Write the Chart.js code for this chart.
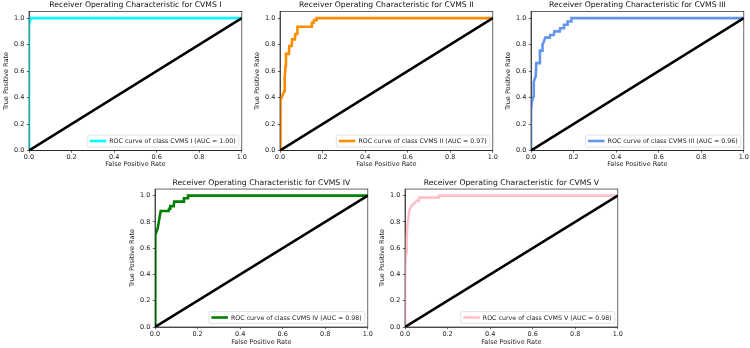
<!DOCTYPE html>
<html>
<head>
<meta charset="utf-8">
<script src="https://cdn.jsdelivr.net/npm/chart.js@4.4.1/dist/chart.umd.min.js"></script>
<style>
  html, body { margin: 0; padding: 0; background: #fff; }
  body { width: 750px; height: 348px; position: relative; overflow: hidden; }
  canvas { position: absolute; display: block; }
</style>
</head>
<body>
<canvas id="roc1" width="248" height="170" style="left:0px;top:0px"></canvas>
<canvas id="roc2" width="248" height="170" style="left:251px;top:0px"></canvas>
<canvas id="roc3" width="248" height="170" style="left:502px;top:0px"></canvas>
<canvas id="roc4" width="248" height="171" style="left:126px;top:177px"></canvas>
<canvas id="roc5" width="248" height="171" style="left:376px;top:177px"></canvas>
<script>
// tick labels shared by both axes
const tickValues = [0, 0.2, 0.4, 0.6, 0.8, 1.0];

// chance line
const diagFpr = [0, 1];
const diagTpr = [0, 1];

const classNames = ['CVMS I', 'CVMS II', 'CVMS III', 'CVMS IV', 'CVMS V'];
const aucValues = [1.00, 0.97, 0.96, 0.98, 0.98];
const curveColors = ['#00ffff', '#ff8c00', '#6495ed', '#008000', '#ffc0cb'];

// ROC points
const fprI = [0, 0, 0.008, 1];
const tprI = [0, 0.955, 1.0, 1];

const fprII = [0, 0, 0.004, 0.01, 0.02, 0.022, 0.026, 0.028, 0.042, 0.044, 0.055, 0.057, 0.07, 0.072, 0.08, 0.082, 0.148, 0.15, 0.158, 0.16, 0.17, 0.172, 1];
const tprII = [0, 0.28, 0.38, 0.41, 0.45, 0.55, 0.64, 0.73, 0.73, 0.79, 0.79, 0.84, 0.84, 0.88, 0.88, 0.935, 0.935, 0.965, 0.965, 0.985, 0.985, 1.0, 1];

const fprIII = [0, 0, 0.005, 0.012, 0.013, 0.022, 0.025, 0.04, 0.042, 0.052, 0.054, 0.06, 0.067, 0.088, 0.09, 0.107, 0.11, 0.135, 0.137, 0.153, 0.155, 0.17, 0.172, 0.188, 0.19, 1];
const tprIII = [0, 0.30, 0.38, 0.41, 0.52, 0.56, 0.66, 0.66, 0.755, 0.755, 0.80, 0.82, 0.853, 0.853, 0.873, 0.873, 0.90, 0.90, 0.924, 0.924, 0.95, 0.95, 0.975, 0.975, 1.0, 1];

const fprIV = [0, 0, 0.003, 0.006, 0.0125, 0.018, 0.022, 0.027, 0.064, 0.066, 0.071, 0.072, 0.088, 0.09, 0.134, 0.136, 0.153, 0.155, 1];
const tprIV = [0, 0.40, 0.70, 0.72, 0.75, 0.80, 0.84, 0.883, 0.883, 0.90, 0.90, 0.92, 0.92, 0.954, 0.954, 0.98, 0.98, 1.0, 1];

const fprV = [0, 0, 0.005, 0.008, 0.011, 0.016, 0.02, 0.028, 0.04, 0.055, 0.065, 0.067, 0.158, 0.16, 1];
const tprV = [0, 0.44, 0.57, 0.67, 0.77, 0.83, 0.885, 0.92, 0.935, 0.96, 0.96, 0.985, 0.985, 1.0, 1];

const fprList = [fprI, fprII, fprIII, fprIV, fprV];
const tprList = [tprI, tprII, tprIII, tprIV, tprV];

Chart.defaults.font.family = '"DejaVu Sans", sans-serif';
Chart.defaults.color = '#222';

const FONT_SMALL = { family: '"DejaVu Sans", sans-serif', size: 6.5 };
const toPoints = (xs, ys) => xs.map((x, i) => ({ x, y: ys[i] }));

// matplotlib-like box round the axes
const axesFrame = {
  id: 'axesFrame',
  afterDatasetsDraw(chart) {
    const { ctx, chartArea: a } = chart;
    ctx.save();
    ctx.strokeStyle = '#000';
    ctx.lineWidth = 0.6;
    ctx.strokeRect(a.left, a.top, a.right - a.left, a.bottom - a.top);
    ctx.restore();
  },
};

// legend drawn in the lower right corner of the plot
const cornerLegend = {
  id: 'cornerLegend',
  afterDraw(chart) {
    const ds = chart.data.datasets[0];
    const { ctx, chartArea: a } = chart;
    ctx.save();
    ctx.font = '6.3px "DejaVu Sans"';
    const textW = ctx.measureText(ds.label).width;
    const w = textW + 25;
    const h = 12;
    const x = a.right - 3 - w;
    const y = a.bottom - 3.5 - h;
    ctx.beginPath();
    ctx.roundRect(x, y, w, h, 1.5);
    ctx.fillStyle = 'rgba(255,255,255,0.85)';
    ctx.fill();
    ctx.strokeStyle = '#d2d2d2';
    ctx.lineWidth = 0.6;
    ctx.stroke();
    ctx.beginPath();
    ctx.moveTo(x + 2.5, y + h / 2);
    ctx.lineTo(x + 19, y + h / 2);
    ctx.strokeStyle = ds.borderColor;
    ctx.lineWidth = ds.borderWidth;
    ctx.stroke();
    ctx.fillStyle = '#222';
    ctx.textBaseline = 'middle';
    ctx.fillText(ds.label, x + 22, y + h / 2 + 0.5);
    ctx.restore();
  },
};

function buildRocChart(idx, bottomRow) {
  const name = classNames[idx];
  const canvas = document.getElementById('roc' + (idx + 1));
  const xAxisHeight = bottomRow ? 21 : 19.5;

  return new Chart(canvas, {
    type: 'line',
    data: {
      datasets: [
        {
          label: `ROC curve of class ${name} (AUC = ${aucValues[idx].toFixed(2)})`,
          data: toPoints(fprList[idx], tprList[idx]),
          borderColor: curveColors[idx],
          borderWidth: 2.6,
          pointRadius: 0,
          tension: 0,
          clip: 0,
          order: 2,
        },
        {
          label: 'chance',
          data: toPoints(diagFpr, diagTpr),
          borderColor: '#000',
          borderWidth: 2.6,
          pointRadius: 0,
          clip: 0,
          order: 1,
        },
      ],
    },
    options: {
      responsive: false,
      animation: false,
      layout: { padding: { left: 0, right: 6, top: 0, bottom: 0 } },
      plugins: {
        legend: { display: false },
        tooltip: { enabled: false },
        title: {
          display: true,
          fullSize: false,
          text: `Receiver Operating Characteristic for ${name}`,
          color: '#111',
          font: { family: '"DejaVu Sans", sans-serif', size: 7.7, weight: 'normal', lineHeight: 1.2 },
          padding: { top: bottomRow ? 1.3 : 0.8, bottom: 1.5 },
        },
      },
      scales: {
        x: {
          type: 'linear',
          min: 0,
          max: 1,
          afterBuildTicks: (s) => { s.ticks = tickValues.map((v) => ({ value: v })); },
          afterFit: (s) => { s.height = xAxisHeight; },
          ticks: { font: FONT_SMALL, color: '#222', padding: 1, autoSkip: false, maxRotation: 0, callback: (v) => Number(v).toFixed(1) },
          grid: { drawOnChartArea: false, drawTicks: true, tickLength: 2.2, color: '#000', lineWidth: 0.6 },
          border: { display: true, color: '#000', width: 0.6 },
          title: { display: true, text: 'False Positive Rate', font: FONT_SMALL, color: '#222', padding: { top: 0, bottom: 2 } },
        },
        y: {
          type: 'linear',
          min: 0,
          max: 1.05,
          afterBuildTicks: (s) => { s.ticks = tickValues.map((v) => ({ value: v })); },
          afterFit: (s) => { s.width = 29; },
          ticks: { font: FONT_SMALL, color: '#222', padding: 2.5, autoSkip: false, callback: (v) => Number(v).toFixed(1) },
          grid: { drawOnChartArea: false, drawTicks: true, tickLength: 2.2, color: '#000', lineWidth: 0.6 },
          border: { display: true, color: '#000', width: 0.6 },
          title: { display: true, text: 'True Positive Rate', font: FONT_SMALL, color: '#222', padding: { top: 2.5, bottom: 0 } },
        },
      },
    },
    plugins: [axesFrame, cornerLegend],
  });
}

classNames.forEach((_, i) => buildRocChart(i, i >= 3));
</script>
</body>
</html>
